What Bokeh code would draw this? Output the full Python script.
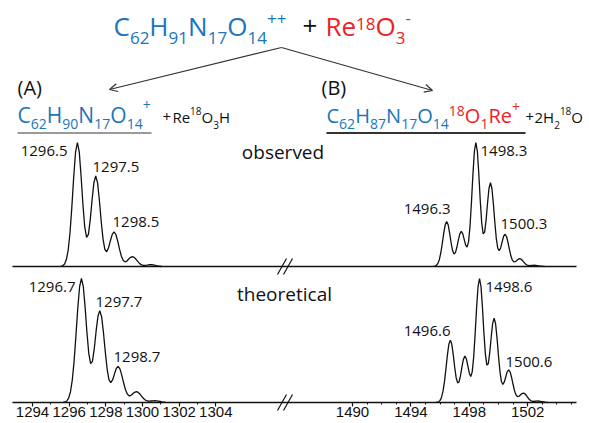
from bokeh.plotting import figure
from bokeh.models import (Range1d, FixedTicker, CustomJSTickFormatter, ColumnDataSource,
                          Arrow, OpenHead)
from bokeh.core.properties import value, field
from bokeh.embed import file_html
from bokeh.resources import INLINE

# ---------------- data ----------------
obs_left_mz = [1295.55, 1295.65, 1295.75, 1295.85, 1295.95, 1296.05, 1296.15, 1296.25, 1296.35, 1296.45,
               1296.55, 1296.65, 1296.75, 1296.85, 1296.95, 1297.05, 1297.15, 1297.25, 1297.35, 1297.45,
               1297.55, 1297.65, 1297.75, 1297.85, 1297.95, 1298.05, 1298.15, 1298.25, 1298.35, 1298.45,
               1298.55, 1298.65, 1298.75, 1298.85, 1298.95, 1299.05, 1299.15, 1299.25, 1299.35, 1299.45,
               1299.55, 1299.65, 1299.75, 1299.85, 1299.95, 1300.05, 1300.15, 1300.25, 1300.35, 1300.45,
               1300.55, 1300.65, 1300.75, 1300.85, 1300.95, 1301.05]
obs_left_int = [0.2, 0.6, 2.0, 5.6, 13.5, 27.8, 48.7, 72.6, 92.3, 100.0,
                92.4, 73.0, 50.2, 31.9, 23.4, 25.9, 37.6, 53.6, 67.6, 73.0,
                67.4, 53.2, 36.1, 21.9, 13.7, 11.9, 15.1, 20.8, 25.9, 28.0,
                25.8, 20.4, 13.8, 8.2, 4.9, 3.8, 4.4, 6.0, 7.4, 8.0,
                7.4, 5.8, 3.9, 2.3, 1.3, 0.9, 0.9, 1.1, 1.4, 1.5,
                1.4, 1.1, 0.7, 0.4, 0.2, 0.0]

theo_left_mz = [1295.67, 1295.77, 1295.87, 1295.97, 1296.07, 1296.17, 1296.27, 1296.37, 1296.47, 1296.57,
                1296.67, 1296.77, 1296.87, 1296.97, 1297.07, 1297.17, 1297.27, 1297.37, 1297.47, 1297.57,
                1297.67, 1297.77, 1297.87, 1297.97, 1298.07, 1298.17, 1298.27, 1298.37, 1298.47, 1298.57,
                1298.67, 1298.77, 1298.87, 1298.97, 1299.07, 1299.17, 1299.27, 1299.37, 1299.47, 1299.57,
                1299.67, 1299.77, 1299.87, 1299.97, 1300.07, 1300.17, 1300.27, 1300.37, 1300.47, 1300.57,
                1300.67, 1300.77, 1300.87, 1300.97, 1301.07, 1301.17, 1301.27]
theo_left_int = [0.1, 0.4, 1.2, 3.5, 8.5, 18.0, 33.4, 53.9, 76.0, 93.4,
                 100.0, 93.7, 76.9, 56.5, 39.7, 31.3, 33.2, 43.4, 57.5, 69.5,
                 74.1, 69.2, 56.6, 40.9, 27.2, 18.5, 16.0, 18.2, 22.9, 27.4,
                 29.1, 27.1, 22.1, 15.9, 10.4, 6.8, 5.4, 5.7, 7.0, 8.2,
                 8.7, 8.1, 6.6, 4.7, 3.0, 1.8, 1.2, 1.1, 1.2, 1.3,
                 1.4, 1.3, 1.1, 0.8, 0.5, 0.3, 0.0]

obs_right_mz = [1495.55, 1495.65, 1495.75, 1495.85, 1495.95, 1496.05, 1496.15, 1496.25, 1496.35, 1496.45,
                1496.55, 1496.65, 1496.75, 1496.85, 1496.95, 1497.05, 1497.15, 1497.25, 1497.35, 1497.45,
                1497.55, 1497.65, 1497.75, 1497.85, 1497.95, 1498.05, 1498.15, 1498.25, 1498.35, 1498.45,
                1498.55, 1498.65, 1498.75, 1498.85, 1498.95, 1499.05, 1499.15, 1499.25, 1499.35, 1499.45,
                1499.55, 1499.65, 1499.75, 1499.85, 1499.95, 1500.05, 1500.15, 1500.25, 1500.35, 1500.45,
                1500.55, 1500.65, 1500.75, 1500.85, 1500.95, 1501.05, 1501.15, 1501.25, 1501.35, 1501.45,
                1501.55, 1501.65, 1501.75, 1501.85, 1501.95, 1502.05, 1502.15, 1502.25, 1502.35, 1502.45,
                1502.55, 1502.65, 1502.75, 1502.85, 1502.95, 1503.05, 1503.15]
obs_right_int = [0.1, 0.3, 1.0, 2.5, 5.7, 11.1, 18.6, 26.9, 33.6, 36.2,
                 33.7, 27.2, 19.4, 13.1, 10.1, 11.2, 15.5, 21.3, 26.3, 28.3,
                 26.5, 21.9, 17.2, 15.6, 20.1, 32.6, 52.2, 74.7, 93.0, 100.0,
                 93.1, 75.0, 53.2, 35.3, 26.3, 27.7, 37.4, 51.2, 63.1, 67.7,
                 62.9, 50.5, 35.4, 22.5, 14.7, 12.7, 15.2, 19.9, 24.4, 26.0,
                 24.2, 19.4, 13.6, 8.4, 5.1, 3.7, 3.9, 4.9, 5.9, 6.3,
                 5.9, 4.7, 3.3, 2.0, 1.2, 0.8, 0.7, 0.8, 0.9, 1.0,
                 0.9, 0.7, 0.5, 0.3, 0.2, 0.1, 0.0]

theo_right_mz = [1495.7, 1495.8, 1495.9, 1496.0, 1496.1, 1496.2, 1496.3, 1496.4, 1496.5, 1496.6,
                 1496.7, 1496.8, 1496.9, 1497.0, 1497.1, 1497.2, 1497.3, 1497.4, 1497.5, 1497.6,
                 1497.7, 1497.8, 1497.9, 1498.0, 1498.1, 1498.2, 1498.3, 1498.4, 1498.5, 1498.6,
                 1498.7, 1498.8, 1498.9, 1499.0, 1499.1, 1499.2, 1499.3, 1499.4, 1499.5, 1499.6,
                 1499.7, 1499.8, 1499.9, 1500.0, 1500.1, 1500.2, 1500.3, 1500.4, 1500.5, 1500.6,
                 1500.7, 1500.8, 1500.9, 1501.0, 1501.1, 1501.2, 1501.3, 1501.4, 1501.5, 1501.6,
                 1501.7, 1501.8, 1501.9, 1502.0, 1502.1, 1502.2, 1502.3, 1502.4, 1502.5, 1502.6,
                 1502.7, 1502.8, 1502.9, 1503.0, 1503.1, 1503.2, 1503.3, 1503.4]
theo_right_int = [0.1, 0.2, 0.6, 1.7, 4.3, 9.1, 16.8, 27.1, 38.2, 47.0,
                  50.3, 47.1, 38.7, 28.4, 20.0, 15.8, 16.7, 21.8, 28.9, 34.9,
                  37.4, 35.1, 29.5, 23.6, 20.9, 24.7, 36.6, 55.2, 76.5, 93.6,
                  100.0, 93.7, 76.8, 56.3, 39.2, 30.2, 31.2, 40.1, 52.8, 63.8,
                  68.0, 63.5, 51.9, 37.5, 24.9, 16.9, 14.5, 16.6, 20.8, 24.9,
                  26.3, 24.6, 20.1, 14.5, 9.4, 6.1, 4.8, 5.0, 6.1, 7.2,
                  7.6, 7.1, 5.8, 4.1, 2.6, 1.6, 1.0, 0.9, 1.0, 1.1,
                  1.2, 1.1, 0.9, 0.6, 0.4, 0.2, 0.1, 0.0]

left_major = [1294, 1296, 1298, 1300, 1302, 1304]
left_minor = [1295, 1297, 1299, 1301, 1303]
right_major = [1490, 1494, 1498, 1502]
right_minor = [1491, 1492, 1493, 1495, 1496, 1497, 1499, 1500, 1501, 1503, 1504, 1505]

obs_labels = ["1296.5", "1297.5", "1298.5", "1496.3", "1498.3", "1500.3"]
theo_labels = ["1296.7", "1297.7", "1298.7", "1496.6", "1498.6", "1500.6"]
panel_titles = ["observed", "theoretical"]
branch_tags = ["(A)", "(B)"]

# ---------------- layout ----------------
BLUE = "#1b75bb"
RED = "#ec2227"
BLACK = "#111111"

W, H = 589, 423
L0_PX, L_SCALE = 32.0, 18.33      # broken axis: left segment
R0_PX, R_SCALE = 352.0, 14.6      # right segment
AX_START, AX_END = 12, 576
BASE_PX = 402.0                   # axis line / theoretical baseline
PX_PER_UNIT = 1.24
OBS_BASE_PX = 266.0
TEXT_K = 0.43                     # baseline correction (fraction of font size)


def ux(mz):
    if mz < 1400:
        return L0_PX + (mz - 1294) * L_SCALE
    return R0_PX + (mz - 1490) * R_SCALE


def py(px):
    return (BASE_PX - px) / PX_PER_UNIT


def ty(px, size):
    """data y for a text whose alphabetic baseline should sit at page pixel px"""
    return py(px - TEXT_K * size)


OBS_OFF = py(OBS_BASE_PX)

p = figure(width=W, height=H, x_range=Range1d(0, W), y_range=Range1d(py(H), py(0)),
           output_backend="svg", toolbar_location=None, y_axis_location=None,
           min_border_left=0, min_border_right=0, min_border_top=0, min_border_bottom=0)
p.title.visible = False
p.grid.visible = False
p.outline_line_color = None

# observed baseline
p.line([AX_START, AX_END], [OBS_OFF, OBS_OFF], line_color=BLACK, line_width=1.6)

# spectra
for mz, inten, off in [(obs_left_mz, obs_left_int, OBS_OFF), (obs_right_mz, obs_right_int, OBS_OFF),
                       (theo_left_mz, theo_left_int, 0.0), (theo_right_mz, theo_right_int, 0.0)]:
    p.line([ux(m) for m in mz], [off + v for v in inten], line_color=BLACK, line_width=1.3)

# axis (broken: two m/z segments on one axis line)
majors = left_major + right_major
minors = left_minor + right_minor
maj_pos = [ux(m) for m in majors]
ax = p.xaxis[0]
ax.fixed_location = 0
ax.ticker = FixedTicker(ticks=maj_pos, minor_ticks=[ux(m) for m in minors])
ax.formatter = CustomJSTickFormatter(args=dict(pos=maj_pos, lab=[str(m) for m in majors]), code="""
let best = -1, bd = 1e9;
for (let i = 0; i < pos.length; i++) { const d = Math.abs(pos[i] - tick); if (d < bd) { bd = d; best = i; } }
return bd < 0.01 ? lab[best] : "";
""")
ax.bounds = (AX_START, AX_END)
ax.axis_line_width = 1.6
ax.axis_line_color = BLACK
ax.major_tick_out = 4
ax.major_tick_in = 0
ax.minor_tick_out = 2
ax.minor_tick_in = 0
ax.major_tick_line_color = BLACK
ax.minor_tick_line_color = BLACK
ax.major_tick_line_width = 1.2
ax.minor_tick_line_width = 1
ax.major_label_text_font = "Liberation Sans"
ax.major_label_text_font_size = "15px"
ax.major_label_text_color = BLACK
ax.major_label_standoff = 0

# break marks
for yb in (OBS_BASE_PX, BASE_PX):
    for dx in (0, 6):
        p.add_layout(Arrow(end=None, x_start=277 + dx, y_start=py(yb + 8), x_end=286 + dx,
                           y_end=py(yb - 8), line_color=BLACK, line_width=1.2))

# reaction arrows
for xe, ye in ((109, 89), (432, 90)):
    p.add_layout(Arrow(end=OpenHead(size=8, line_color="#333333", line_width=1.2),
                       x_start=281, y_start=py(47), x_end=xe, y_end=py(ye),
                       line_color="#333333", line_width=1.2))

# underlines
p.line([17, 151], [py(132.5), py(132.5)], line_color="#9a9a9a", line_width=2)
p.line([326, 525], [py(132.5), py(132.5)], line_color="#333333", line_width=1.8)

# formula text pieces
WID = {'+': 0.572, '-': 0.322, 'C': 0.631, 'H': 0.740, 'N': 0.760, 'O': 0.781, 'R': 0.613,
       'e': 0.560, '(': 0.296, ')': 0.296, 'A': 0.633, 'B': 0.634, ' ': 0.26}


def tw(s, size):
    return sum(WID.get(c, 0.572) for c in s) * size


T = dict(x=[], y=[], text=[], color=[], size=[])


def place(x0, base, items):
    x = x0
    for t, size, color, dy in items:
        T["x"].append(x)
        T["y"].append(ty(base + dy, size))
        T["text"].append(t)
        T["color"].append(color)
        T["size"].append(f"{size}px")
        x += tw(t, size)


M, S = 26, 17
place(113, 36.7, [("C", M, BLUE, 0), ("62", S, BLUE, 8.3), ("H", M, BLUE, 0), ("91", S, BLUE, 8.3),
                  ("N", M, BLUE, 0), ("17", S, BLUE, 8.3), ("O", M, BLUE, 0), ("14", S, BLUE, 8.3),
                  ("++", S, BLUE, -10.6)])
place(302, 36.7, [("+", M, BLACK, 0)])
place(325, 36.7, [("Re", M, RED, 0), ("18", S, RED, -6.3), ("O", M, RED, 0), ("3", S, RED, 8.3),
                  ("-", S, RED, -11.7)])

place(17, 96, [(branch_tags[0], 20, BLACK, 0)])
place(321, 96, [(branch_tags[1], 20, BLACK, 0)])

m, s = 21, 14
place(17, 123.3, [("C", m, BLUE, 0), ("62", s, BLUE, 6.5), ("H", m, BLUE, 0), ("90", s, BLUE, 6.5),
                  ("N", m, BLUE, 0), ("17", s, BLUE, 6.5), ("O", m, BLUE, 0), ("14", s, BLUE, 6.5),
                  ("+", s, BLUE, -12.3)])
place(162, 123.3, [("+", 15, BLACK, 0)])
place(172, 123.3, [("Re", 15, BLACK, 0), ("18", 10, BLACK, -8.3), ("O", 15, BLACK, 0),
                   ("3", 10, BLACK, 5.5), ("H", 15, BLACK, 0)])

m2 = 20
place(326, 123.3, [("C", m2, BLUE, 0), ("62", s, BLUE, 6.5), ("H", m2, BLUE, 0), ("87", s, BLUE, 6.5),
                   ("N", m2, BLUE, 0), ("17", s, BLUE, 6.5), ("O", m2, BLUE, 0), ("14", s, BLUE, 6.5),
                   ("18", s, RED, -6.6), ("O", m2, RED, 0), ("1", s, RED, 6.5), ("Re", m2, RED, 0),
                   ("+", s, RED, -11)])
place(525, 123.3, [("+", 15, BLACK, 0)])
place(534, 123.3, [("2H", 15, BLACK, 0), ("2", 10, BLACK, 5.5), ("18", 10, BLACK, -8.3),
                   ("O", 15, BLACK, 0)])

p.text(x="x", y="y", text="text", source=ColumnDataSource(T), text_color=field("color"),
       text_font_size=field("size"), text_font=value("Open Sans"),
       text_baseline="alphabetic", text_align="left")

# panel titles
p.text(x=[282.5, 284], y=[ty(160, 19), ty(302, 19)], text=panel_titles,
       text_font=value("Open Sans"), text_font_size="19px", text_color=BLACK,
       text_baseline="alphabetic", text_align="center")

# peak labels: (anchor x, baseline y in page px, alignment)
obs_lab_pos = [(67, 157, "right"), (92, 173, "left"), (112, 228, "left"),
               (450, 215, "right"), (480, 157, "left"), (500, 230, "left")]
theo_lab_pos = [(75, 293, "right"), (95, 308, "left"), (113, 363, "left"),
                (450, 337, "right"), (485, 293, "left"), (505, 368, "left")]
pos = obs_lab_pos + theo_lab_pos
lab_src = ColumnDataSource(dict(x=[a for a, b, c in pos], y=[ty(b, 15) for a, b, c in pos],
                                text=obs_labels + theo_labels, align=[c for a, b, c in pos]))
p.text(x="x", y="y", text="text", source=lab_src, text_align=field("align"),
       text_font=value("Open Sans"), text_font_size="15px", text_color=BLACK,
       text_baseline="alphabetic")

open("out.html", "w").write(file_html(p, INLINE))
